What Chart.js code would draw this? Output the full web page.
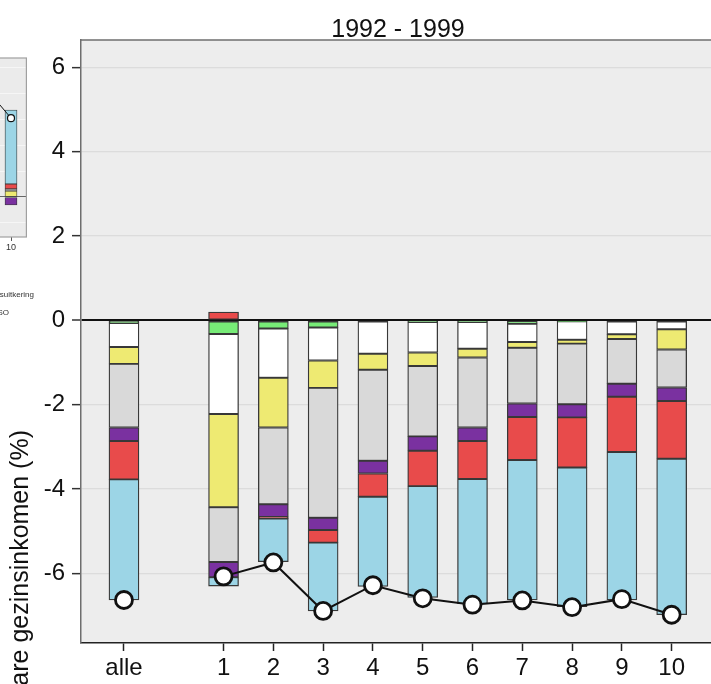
<!DOCTYPE html>
<html>
<head>
<meta charset="utf-8">
<script src="https://cdn.jsdelivr.net/npm/chart.js@4.4.1/dist/chart.umd.min.js"></script>
<style>
  html, body { margin: 0; padding: 0; background: #fff; overflow: hidden; }
  #wrap { position: relative; width: 711px; height: 684px; overflow: hidden; }
  #main { position: absolute; left: 0; top: 0; }
  #side { position: absolute; left: -173px; top: 0; }
  .leg { position: absolute; font: 8px "Liberation Sans", Arial, sans-serif; color: #333;
         text-align: right; white-space: nowrap; width: 200px; }
</style>
</head>
<body>
<div id="wrap">
  <canvas id="side" width="200" height="260"></canvas>
  <canvas id="main" width="711" height="684"></canvas>
  <div class="leg" style="left:-166px; top:290px;">Werkloosheidsuitkering</div>
  <div class="leg" style="left:-191px; top:308px;">WAO/WSO</div>
</div>
<script>
// ---- main panel: 1992 - 1999, x position = index in categories ----
const categories = ['alle', '', '1', '2', '3', '4', '5', '6', '7', '8', '9', '10'];

const seriesGreen  = [-0.06, null, -0.32, -0.19, -0.17, null,  -0.04, -0.04, -0.08, -0.02, null,  null];
const seriesWhite  = [-0.57, null, -1.90, -1.17, -0.78, -0.79, -0.72, -0.63, -0.43, -0.44, -0.33, -0.21];
const seriesYellow = [-0.40, null, -2.21, -1.18, -0.65, -0.38, -0.32, -0.21, -0.14, -0.09, -0.11, -0.48];
const seriesGrey   = [-1.51, null, -1.30, -1.82, -3.08, -2.16, -1.67, -1.66, -1.32, -1.44, -1.06, -0.90];
const seriesPurple = [-0.32, null, -0.36, -0.30, -0.29, -0.30, -0.34, -0.32, -0.32, -0.31, -0.31, -0.32];
const seriesRed    = [-0.91, null,  0.20, -0.04, -0.30, -0.55, -0.84, -0.90, -1.02, -1.19, -1.31, -1.37];
const seriesBlue   = [-2.86, null, -0.21, -1.02, -1.62, -2.13, -2.64, -2.96, -3.32, -3.30, -3.51, -3.70];
const totals       = [-6.63, null, -6.07, -5.74, -6.89, -6.28, -6.59, -6.74, -6.64, -6.80, -6.61, -6.98];

const yTickValues = [-6, -4, -2, 0, 2, 4, 6];

// ---- partial neighbouring panel (only its last decile is in view) ----
const sideCategories = ['9', '10'];
const sidePositions  = [9, 10];
const sideYellow = [null, 0.46];
const sideGrey   = [null, 0.16];
const sidePurple = [null, -0.62];
const sideRed    = [null, 0.38];
const sideBlue   = [null, 5.69];
const sideTotals = [7.90, 6.07];
const sideTickValues = [-2, 0, 2, 4, 6, 8, 10];

const FONT = '"Liberation Sans", Arial, Helvetica, sans-serif';
const INK = '#111';
const COLORS = {
  green: '#77EB77', white: '#FFFFFF', yellow: '#EEEA72', grey: '#D9D9D9',
  purple: '#7A31A0', red: '#E84B4B', blue: '#9CD5E6'
};

const toPoints = (arr, xs) => arr.map((v, i) => ({ x: xs ? xs[i] : i, y: v }));

function barSets(list, xs, thickness, bw) {
  return list.map(([arr, key]) => ({
    type: 'bar',
    data: toPoints(arr, xs),
    backgroundColor: COLORS[key],
    borderColor: '#383838',
    borderWidth: bw,
    borderSkipped: false,
    barThickness: thickness,
    stack: 'parts',
    order: 1
  }));
}

// keep the plot area flush with the canvas edges
function flushX(s, h) {
  s.height = h;
  s.paddingLeft = 0;
  s.paddingRight = 0;
}

// panel background, top frame line, title and vertical axis title
const mainDecor = {
  id: 'mainDecor',
  beforeDraw(chart) {
    const { ctx, chartArea: a } = chart;
    ctx.save();
    ctx.fillStyle = '#EDEDED';
    ctx.fillRect(a.left, a.top, a.right - a.left, a.bottom - a.top);
    ctx.restore();
  },
  afterDraw(chart) {
    const { ctx, chartArea: a } = chart;
    ctx.save();
    ctx.strokeStyle = '#6e6e6e';
    ctx.lineWidth = 1.5;
    ctx.beginPath();
    ctx.moveTo(a.left, a.top);
    ctx.lineTo(a.right, a.top);
    ctx.stroke();

    ctx.fillStyle = INK;
    ctx.font = '25px ' + FONT;
    ctx.textAlign = 'center';
    ctx.textBaseline = 'alphabetic';
    ctx.fillText('1992 - 1999', (a.left + a.right) / 2 + 2, 37);

    ctx.translate(28, 430);
    ctx.rotate(-Math.PI / 2);
    ctx.textAlign = 'right';
    ctx.fillText('Verandering besteedbare gezinsinkomen (%)', 0, 0);
    ctx.restore();
  }
};

new Chart(document.getElementById('main'), {
  type: 'bar',
  data: {
    datasets: [
      {
        type: 'line',
        data: toPoints(totals),
        borderColor: INK,
        borderWidth: 2,
        tension: 0,
        spanGaps: false,
        pointRadius: 8.5,
        pointBackgroundColor: '#fff',
        pointBorderColor: INK,
        pointBorderWidth: 2.8,
        stack: 'total',
        order: 0
      },
      ...barSets([
        [seriesGreen, 'green'], [seriesWhite, 'white'], [seriesYellow, 'yellow'],
        [seriesGrey, 'grey'], [seriesPurple, 'purple'], [seriesRed, 'red'], [seriesBlue, 'blue']
      ], null, 30, 1.3)
    ]
  },
  options: {
    responsive: false,
    devicePixelRatio: 1,
    animation: false,
    events: [],
    layout: { autoPadding: false, padding: { top: 40, left: 0, right: 0, bottom: 0 } },
    plugins: { legend: { display: false }, tooltip: { enabled: false }, title: { display: false } },
    scales: {
      x: {
        type: 'linear',
        min: -0.863,
        max: 11.79,
        offset: false,
        stacked: true,
        afterBuildTicks: s => {
          s.ticks = categories.map((c, i) => ({ value: i })).filter(t => categories[t.value] !== '');
        },
        afterFit: s => flushX(s, 41),
        ticks: {
          autoSkip: false, maxRotation: 0, padding: 3, color: INK,
          font: { family: FONT, size: 24 },
          callback: v => categories[v] ?? ''
        },
        grid: {
          offset: false, drawOnChartArea: false, drawTicks: true,
          tickLength: 8, tickColor: '#222', tickWidth: 1.5
        },
        border: { display: true, color: '#222', width: 1.5 }
      },
      y: {
        type: 'linear',
        min: -7.65,
        max: 6.65,
        stacked: true,
        afterBuildTicks: s => { s.ticks = yTickValues.map(v => ({ value: v })); },
        afterFit: s => { s.width = 81; s.paddingTop = 0; s.paddingBottom = 0; },
        ticks: {
          padding: 7, color: INK,
          font: { family: FONT, size: 24 },
          callback: v => String(v)
        },
        grid: {
          color: c => (c.tick && c.tick.value === 0 ? '#111' : '#dcdcdc'),
          lineWidth: c => (c.tick && c.tick.value === 0 ? 2 : 1.3),
          tickColor: '#333', tickLength: 9, tickWidth: 1.5
        },
        border: { display: true, color: '#6e6e6e', width: 1.5 }
      }
    }
  },
  plugins: [mainDecor]
});

// neighbouring panel
const sideDecor = {
  id: 'sideDecor',
  beforeDraw(chart) {
    const { ctx, chartArea: a } = chart;
    ctx.save();
    ctx.fillStyle = '#EBEBEB';
    ctx.fillRect(a.left, a.top, a.right - a.left, a.bottom - a.top);
    ctx.restore();
  },
  afterDraw(chart) {
    const { ctx, chartArea: a } = chart;
    ctx.save();
    ctx.strokeStyle = '#a0a0a0';
    ctx.lineWidth = 1.2;
    ctx.strokeRect(a.left, a.top, a.right - a.left - 0.6, a.bottom - a.top);
    ctx.restore();
  }
};

new Chart(document.getElementById('side'), {
  type: 'bar',
  data: {
    datasets: [
      {
        type: 'line',
        data: toPoints(sideTotals, sidePositions),
        borderColor: INK,
        borderWidth: 1,
        tension: 0,
        pointRadius: 3.5,
        pointBackgroundColor: '#fff',
        pointBorderColor: INK,
        pointBorderWidth: 1.2,
        stack: 'total',
        order: 0
      },
      ...barSets([
        [sideYellow, 'yellow'], [sideGrey, 'grey'], [sidePurple, 'purple'],
        [sideRed, 'red'], [sideBlue, 'blue']
      ], sidePositions, 12, 0.8)
    ]
  },
  options: {
    responsive: false,
    devicePixelRatio: 1,
    animation: false,
    events: [],
    layout: { autoPadding: false, padding: { top: 58, left: 0, right: 0, bottom: 0 } },
    plugins: { legend: { display: false }, tooltip: { enabled: false } },
    scales: {
      x: {
        type: 'linear', min: 0.8, max: 10.8, offset: false, stacked: true,
        afterBuildTicks: s => { s.ticks = sidePositions.map(v => ({ value: v })); },
        afterFit: s => flushX(s, 23),
        ticks: {
          autoSkip: false, maxRotation: 0, padding: 1, color: '#333',
          font: { family: FONT, size: 9 },
          callback: v => sideCategories[sidePositions.indexOf(v)] ?? ''
        },
        grid: { offset: false, drawOnChartArea: false, tickLength: 4, tickColor: '#555' },
        border: { display: false }
      },
      y: {
        type: 'linear', min: -3.08, max: 10.7, stacked: true,
        afterBuildTicks: s => { s.ticks = sideTickValues.map(v => ({ value: v })); },
        afterFit: s => { s.width = 0; s.paddingTop = 0; s.paddingBottom = 0; },
        ticks: { display: false },
        grid: {
          drawTicks: false,
          color: c => (c.tick && c.tick.value === 0 ? '#666' : '#f6f6f6'),
          lineWidth: 1
        },
        border: { display: false }
      }
    }
  },
  plugins: [sideDecor]
});
</script>
</body>
</html>
